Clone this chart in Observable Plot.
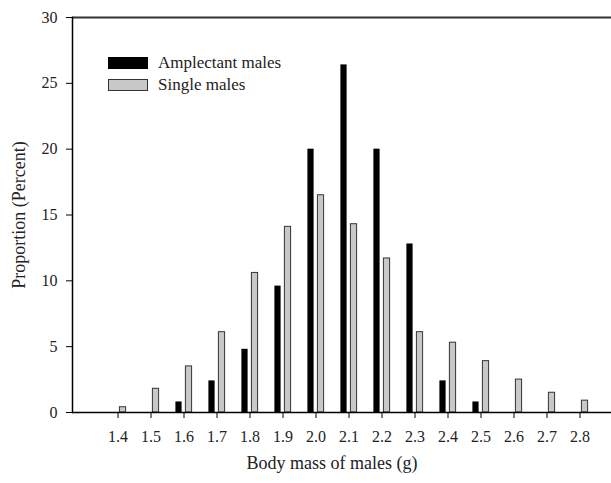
<!DOCTYPE html>
<html>
<head>
<meta charset="utf-8">
<script src="https://cdn.jsdelivr.net/npm/d3@7"></script>
<script src="https://cdn.jsdelivr.net/npm/@observablehq/plot@0.6"></script>
<style>
  html, body { margin: 0; padding: 0; background: #fff; }
  #wrap { position: relative; width: 611px; height: 483px; font-family: "Liberation Serif", "Times New Roman", serif; }
  .legend { position: absolute; left: 108px; font-size: 17px; color: #222; display: flex; align-items: center; white-space: nowrap; }
  .sw { width: 40px; height: 12px; box-sizing: border-box; margin-right: 10px; }
</style>
</head>
<body>
<div id="wrap"></div>
<script>
const masses = ["1.4","1.5","1.6","1.7","1.8","1.9","2.0","2.1","2.2","2.3","2.4","2.5","2.6","2.7","2.8"];
const amplectant = [0, 0, 0.8, 2.4, 4.8, 9.6, 20, 26.4, 20, 12.8, 2.4, 0.8, 0, 0, 0];
const single = [0.4, 1.8, 3.5, 6.1, 10.6, 14.1, 16.5, 14.3, 11.7, 6.1, 5.3, 3.9, 2.5, 1.5, 0.9];
const yTicks = [0, 5, 10, 15, 20, 25, 30];
const seriesNames = ["Amplectant males", "Single males"];
const xLabel = "Body mass of males (g)";
const yLabel = "Proportion (Percent)";

const ampData = masses.map((m, i) => ({mass: m, value: amplectant[i]})).filter(d => d.value > 0);
const sglData = masses.map((m, i) => ({mass: m, value: single[i]}));

const chart = Plot.plot({
  width: 611,
  height: 483,
  marginLeft: 72,
  marginRight: 0,
  marginTop: 17,
  marginBottom: 71,
  style: {fontFamily: "'Liberation Serif', 'Times New Roman', serif", fontSize: "16px", color: "#222", background: "#fff"},
  x: {type: "band", domain: masses, paddingInner: 0, paddingOuter: 0.585, align: 0.657},
  y: {domain: [0, 30]},
  marks: [
    Plot.barY(ampData, {x: "mass", y: "value", fill: "#000", insetLeft: 8.4, insetRight: 18.4}),
    Plot.barY(sglData, {x: "mass", y: "value", fill: "#c8c8c8", stroke: "#333", strokeWidth: 1, insetLeft: 18.4, insetRight: 8.4}),
    Plot.ruleY([0], {stroke: "#000", strokeWidth: 1.5}),
    Plot.ruleY([30], {stroke: "#333", strokeWidth: 2}),
    Plot.frame({anchor: "left", stroke: "#000", strokeWidth: 1.5}),
    Plot.axisX({tickSize: 6, tickPadding: 12, fontSize: 16, label: null, stroke: "#000"}),
    Plot.axisY({ticks: yTicks, tickSize: 6, tickPadding: 9, fontSize: 16, label: null, stroke: "#000"}),
    Plot.text([xLabel], {frameAnchor: "bottom", dx: -10, dy: 56, fontSize: 18, fill: "#222"}),
    Plot.axisY({ticks: [], label: yLabel, labelAnchor: "center", labelArrow: "none", labelOffset: 60, fontSize: 18})
  ]
});
const wrap = document.getElementById("wrap");
wrap.appendChild(chart);

const legendItems = [
  {name: seriesNames[0], top: 53, bg: "#000", border: "none"},
  {name: seriesNames[1], top: 75, bg: "#c8c8c8", border: "1.5px solid #333"}
];
for (const it of legendItems) {
  const div = document.createElement("div");
  div.className = "legend";
  div.style.top = it.top + "px";
  const sw = document.createElement("div");
  sw.className = "sw";
  sw.style.background = it.bg;
  sw.style.border = it.border;
  div.appendChild(sw);
  const t = document.createElement("span");
  t.textContent = it.name;
  div.appendChild(t);
  wrap.appendChild(div);
}
</script>
</body>
</html>
